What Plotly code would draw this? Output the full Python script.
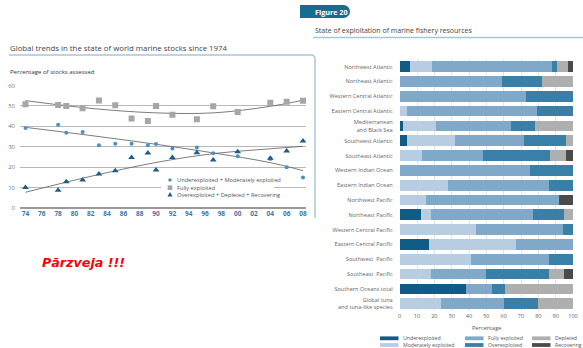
import plotly.graph_objects as go

W = 583
H = 348

# ---- left chart: global trends ----
years = [1974, 1978, 1979, 1981, 1983, 1985, 1987, 1989, 1990, 1992, 1995, 1997, 2000, 2004, 2006, 2008]
under_mod = [39.2, 40.8, 36.9, 37.2, 30.7, 31.5, 31.5, 30.7, 31.4, 29.2, 29.6, 26.8, 25.3, 24.0, 20.0, 14.9]
fully = [50.8, 50.5, 50.0, 48.9, 52.6, 50.3, 43.8, 42.6, 50.0, 45.7, 43.5, 49.8, 47.0, 51.6, 52.0, 52.5]
over_dep = [10.0, 8.7, 12.9, 13.7, 16.7, 18.3, 24.7, 27.0, 18.6, 24.7, 27.1, 23.5, 27.6, 24.4, 27.9, 32.8]

# trend lines
trend_years = [1974, 1982, 1990, 1997, 2004, 2008]
trend_under = [39.5, 35.5, 31.2, 27.0, 22.2, 18.3]
trend_fully = [52.6, 48.8, 46.6, 46.6, 49.8, 52.8]
trend_over = [7.7, 15.5, 22.3, 26.6, 29.0, 30.2]

year_ticks = list(range(1974, 2009, 2))
year_labels = ["74", "76", "78", "80", "82", "84", "86", "88", "90", "92", "94",
               "96", "98", "00", "02", "04", "06", "08"]

# ---- right chart: state of exploitation ----
regions = ["Northwest Atlantic", "Northeast Atlantic", "Western Central Atlantic",
           "Eastern Central Atlantic", "Mediterranean<br>and Black Sea", "Southwest Atlantic",
           "Southeast Atlantic", "Western Indian Ocean", "Eastern Indian Ocean",
           "Northwest Pacific", "Northeast Pacific", "Western Central Pacific",
           "Eastern Central Pacific", "Southwest  Pacific", "Southeast  Pacific",
           "Southern Oceans total", "Global tuna<br>and tuna-like species"]
underexploited = [6, 0, 0, 0, 2, 4, 0, 0, 0, 0, 12, 0, 17, 0, 0, 38, 0]
moderately = [12.8, 0, 0, 4, 19, 28, 13, 0, 28, 15, 6, 44, 50, 41, 18, 0, 24]
fully_exp = [69.2, 59, 73, 75, 43, 40, 35, 75, 58, 77, 59, 50, 33, 45, 32, 15, 36]
overexploited = [3, 23, 27, 21, 14, 24, 39, 25, 14, 0, 18, 6, 0, 14, 36, 8, 20]
depleted = [6, 18, 0, 0, 22, 4, 9, 0, 0, 0, 5, 0, 0, 0, 9, 39, 20]
recovering = [3, 0, 0, 0, 0, 0, 4, 0, 0, 8, 0, 0, 0, 0, 5, 0, 0]
pct_ticks = list(range(0, 101, 10))

series = [("Underexploited", underexploited, "#0f5d86"),
          ("Moderately exploited", moderately, "#b8cde2"),
          ("Fully exploited", fully_exp, "#80a8c9"),
          ("Overexploited", overexploited, "#3a7fa7"),
          ("Depleted", depleted, "#afafaf"),
          ("Recovering", recovering, "#4b4b4b")]

FONT = "Open Sans"
LINE = "#a9c6d8"


def px(x):
    return x / W


def py(y):
    return 1 - y / H


fig = go.Figure()

# trend lines
for tv in [trend_under, trend_fully, trend_over]:
    fig.add_trace(go.Scatter(x=trend_years, y=tv, mode="lines", line=dict(color="#5a5a5a", width=0.8, shape="spline"),
                             showlegend=False, hoverinfo="skip", xaxis="x", yaxis="y"))

fig.add_trace(go.Scatter(x=years, y=fully, mode="markers", name="Fully exploited",
                         marker=dict(symbol="square", size=6, color="#a6a6a6"), xaxis="x", yaxis="y"))
fig.add_trace(go.Scatter(x=years, y=under_mod, mode="markers", name="Underexploited + Moderately exploited",
                         marker=dict(symbol="circle", size=4, color="#4b8fc4"), xaxis="x", yaxis="y"))
fig.add_trace(go.Scatter(x=years, y=over_dep, mode="markers", name="Overexploited + Depleted + Recovering",
                         marker=dict(symbol="triangle-up", size=6, color="#1f5c8c"), xaxis="x", yaxis="y"))

for name, vals, col in series:
    fig.add_trace(go.Bar(y=regions, x=vals, orientation="h", name=name, marker_color=col,
                         marker_line_width=0, xaxis="x2", yaxis="y2"))

shapes = []
annotations = []

# left legend box + entries
shapes.append(dict(type="rect", xref="paper", yref="paper", x0=px(161), x1=px(274), y0=py(200), y1=py(174),
                   fillcolor="white", line_width=0, layer="above"))
shapes.append(dict(type="circle", xref="paper", yref="paper", x0=px(168.3), x1=px(171.7), y0=py(181.7), y1=py(178.3),
                   fillcolor="#4b8fc4", line_width=0))
shapes.append(dict(type="rect", xref="paper", yref="paper", x0=px(167.7), x1=px(172.3), y0=py(190), y1=py(185.4),
                   fillcolor="#a6a6a6", line_width=0))
shapes.append(dict(type="path", xref="paper", yref="paper",
                   path=f"M{px(167.5)},{py(196.6)} L{px(172.5)},{py(196.6)} L{px(170)},{py(192)} Z",
                   fillcolor="#1f5c8c", line_width=0))
for yy, txt in [(180, "Underexploited + Moderately exploited"), (187.7, "Fully exploited"),
                (194.6, "Overexploited + Depleted + Recovering")]:
    annotations.append(dict(x=px(175), y=py(yy), xref="paper", yref="paper", text=txt, showarrow=False,
                            xanchor="left", yanchor="middle", font=dict(size=5.7, color="#555", family=FONT)))

# box around left chart
shapes.append(dict(type="path", xref="paper", yref="paper",
                   path=f"M{px(9)},{py(55)} L{px(311)},{py(55)} Q{px(315)},{py(55)} {px(315)},{py(59)} L{px(315)},{py(218)}",
                   line=dict(color=LINE, width=1.5)))
# right title underline
shapes.append(dict(type="line", xref="paper", yref="paper", x0=px(313), x1=1, y0=py(37.5), y1=py(37.5),
                   line=dict(color=LINE, width=1.5)))
# Figure 20 tab
shapes.append(dict(type="rect", xref="paper", yref="paper", x0=px(300), x1=px(343.5), y0=py(18), y1=py(5),
                   fillcolor="#1a6b8e", line_width=0))
shapes.append(dict(type="circle", xref="paper", yref="paper", x0=px(337), x1=px(350), y0=py(18), y1=py(5),
                   fillcolor="#1a6b8e", line_width=0))

annotations += [
    dict(x=px(313), y=py(11.5), text="<b>Figure 20</b>", font=dict(size=7.2, color="white", family=FONT)),
    dict(x=px(313), y=py(30.5), text="State of exploitation of marine fishery resources",
         font=dict(size=7.0, color="#444", family=FONT)),
    dict(x=px(8), y=py(48.3), text="Global trends in the state of world marine stocks since 1974",
         font=dict(size=7.8, color="#444", family=FONT)),
    dict(x=px(8), y=py(72.3), text="Percentage of stocks assessed",
         font=dict(size=6.0, color="#333", family=FONT)),
    dict(x=px(40), y=py(262), text="<b><i>Pārzveja !!!</i></b>",
         font=dict(size=12.7, color="#ff0000", family="DejaVu Sans")),
    dict(x=px(486.3), y=py(328), text="Percentage", xanchor="center",
         font=dict(size=5.6, color="#555", family=FONT)),
]
for a in annotations:
    a.setdefault("xref", "paper")
    a.setdefault("yref", "paper")
    a.setdefault("showarrow", False)
    a.setdefault("xanchor", "left")
    a.setdefault("yanchor", "middle")

# bar legend (manual, wide swatches)
leg_pos = [(380, 338.3), (380, 345), (465, 338.3), (465, 345), (532, 338.3), (532, 345)]
for (lx, ly), (name, _, col) in zip(leg_pos, series):
    shapes.append(dict(type="rect", xref="paper", yref="paper", x0=px(lx), x1=px(lx + 18.5),
                       y0=py(ly + 1.9), y1=py(ly - 1.9), fillcolor=col, line_width=0))
    annotations.append(dict(x=px(lx + 21), y=py(ly), xref="paper", yref="paper", text=name, showarrow=False,
                            xanchor="left", yanchor="middle", font=dict(size=5.2, color="#555", family=FONT)))

fig.update_layout(
    width=W, height=H, margin=dict(l=0, r=0, t=0, b=0),
    paper_bgcolor="white", plot_bgcolor="white",
    font=dict(family=FONT, color="#555"),
    showlegend=False, barmode="stack", bargap=0.28,
    xaxis=dict(domain=[px(20), px(306)], range=[1973.33, 2008.37], anchor="y",
               tickvals=year_ticks, ticktext=year_labels, showgrid=False, zeroline=False,
               showline=False, ticks="", automargin=False,
               tickfont=dict(size=6.5, color="#3b78aa", family=FONT, weight="bold")),
    yaxis=dict(domain=[py(208), py(85.5)], range=[0, 60], anchor="x", dtick=10,
               showgrid=True, gridcolor="#b8b8b8", gridwidth=1.2, zeroline=True,
               zerolinecolor="#9a9a9a", zerolinewidth=2, showline=False, ticks="",
               ticklabelstandoff=4, automargin=False,
               tickfont=dict(size=6, color="#777", family=FONT)),
    xaxis2=dict(domain=[px(399.7), px(573)], range=[0, 100], anchor="y2", tickvals=pct_ticks,
                showgrid=True, gridcolor="#e4e4e4", gridwidth=1, zeroline=False, showline=False,
                ticks="", automargin=False, tickfont=dict(size=5.6, color="#666", family=FONT)),
    yaxis2=dict(domain=[py(311.1), py(59.3)], anchor="x2", autorange="reversed", showgrid=False,
                showline=False, ticks="", ticklabelstandoff=6, automargin=False,
                tickfont=dict(size=5.6, color="#666", family=FONT)),
    shapes=shapes, annotations=annotations,
)

# page body has a default 8px margin; drop it so the figure sits at the top-left corner
fig.write_html("out.html", config={"displayModeBar": False},
               post_script="document.body.style.margin='0';")
